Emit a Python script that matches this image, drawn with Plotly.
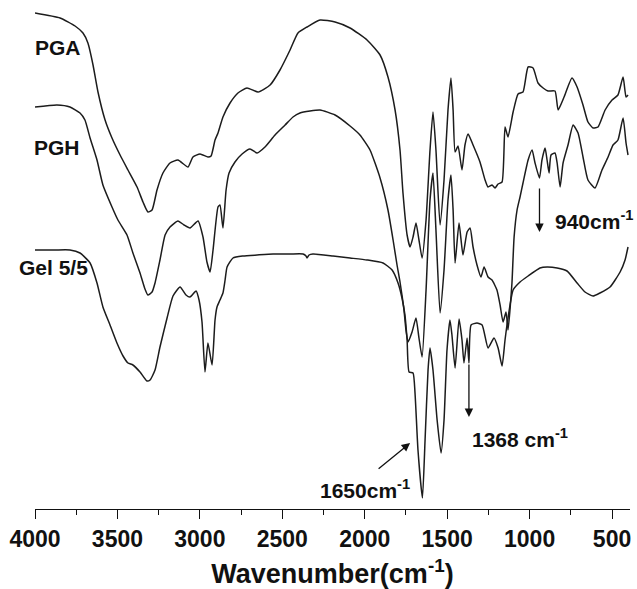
import plotly.graph_objects as go

# FTIR spectra (transmittance, arbitrary offset units) vs wavenumber (cm-1)
pga_wn = [4000, 3848, 3757, 3709, 3679, 3648, 3618, 3575, 3533, 3484, 3436, 3381, 3345, 3315,
          3290, 3260, 3224, 3181, 3133, 3072, 3042, 2999, 2951, 2932, 2908, 2890, 2860, 2817,
          2769, 2714, 2647, 2574, 2514, 2453, 2405, 2350, 2271, 2180, 2089, 1986, 1907, 1859,
          1816, 1786, 1768, 1743, 1725, 1707, 1689, 1671, 1652, 1628, 1604, 1586, 1568, 1543,
          1519, 1495, 1477, 1464, 1452, 1434, 1410, 1392, 1373, 1343, 1301, 1270, 1252, 1228,
          1210, 1191, 1167, 1149, 1131, 1100, 1070, 1040, 1009, 979, 949, 918, 888, 846, 827,
          791, 743, 712, 676, 646, 615, 585, 542, 500, 464, 433, 415, 403]
pga_t = [496, 491, 483, 476, 466, 444, 417, 389, 371, 354, 339, 322, 307, 297,
         299, 319, 336, 346, 349, 342, 352, 355, 352, 353, 369, 376, 392, 406,
         416, 421, 417, 424, 439, 459, 476, 482, 489, 487, 481, 469, 454, 432,
         399, 359, 316, 274, 262, 272, 286, 269, 251, 289, 359, 397, 359, 284,
         329, 399, 431, 399, 357, 363, 339, 364, 375, 364, 347, 329, 322, 324,
         321, 325, 327, 382, 372, 397, 415, 417, 442, 441, 426, 421, 418, 418, 399,
         412, 431, 422, 404, 387, 381, 382, 399, 409, 414, 432, 412, 414]

pgh_wn = [4000, 3867, 3788, 3727, 3697, 3666, 3624, 3588, 3533, 3497, 3442, 3406, 3363, 3333,
          3315, 3290, 3272, 3242, 3211, 3181, 3133, 3096, 3060, 3011, 2981, 2957, 2938, 2920,
          2890, 2878, 2860, 2841, 2823, 2787, 2744, 2696, 2653, 2605, 2544, 2483, 2435, 2393,
          2332, 2271, 2180, 2089, 2029, 1968, 1907, 1859, 1828, 1804, 1786, 1762, 1750, 1737,
          1713, 1689, 1671, 1652, 1628, 1604, 1586, 1568, 1543, 1519, 1495, 1477, 1464, 1452,
          1428, 1404, 1379, 1361, 1343, 1319, 1295, 1276, 1252, 1228, 1198, 1179, 1161, 1143,
          1131, 1119, 1107, 1094, 1076, 1058, 1040, 1009, 985, 967, 940, 925, 906, 894, 882,
          870, 846, 833, 815, 797, 767, 736, 706, 676, 646, 603, 561, 524, 494, 464, 433, 415, 403]
pgh_t = [402, 404, 402, 396, 389, 371, 349, 324, 302, 289, 274, 256, 236, 220,
         214, 217, 226, 249, 274, 282, 288, 284, 281, 288, 272, 247, 237, 259,
         302, 304, 281, 319, 336, 347, 355, 360, 356, 362, 374, 384, 392, 396,
         398, 399, 394, 383, 374, 359, 331, 299, 269, 244, 227, 199, 179, 167,
         177, 191, 171, 152, 219, 309, 336, 279, 196, 239, 309, 334, 299, 246,
         286, 254, 277, 281, 262, 244, 232, 242, 232, 229, 219, 204, 187, 197,
         179, 199, 226, 272, 299, 312, 326, 349, 359, 346, 331, 349, 361, 349, 336,
         354, 356, 346, 322, 346, 364, 384, 376, 352, 329, 321, 339, 352, 364, 369, 391, 366, 354]

gel_wn = [4000, 3879, 3788, 3727, 3666, 3624, 3588, 3545, 3503, 3466, 3436, 3406, 3363, 3321,
          3302, 3272, 3242, 3199, 3163, 3120, 3084, 3060, 3023, 3005, 2987, 2969, 2951, 2926,
          2908, 2896, 2878, 2860, 2847, 2835, 2799, 2738, 2653, 2556, 2453, 2374, 2356, 2350,
          2338, 2314, 2192, 2089, 1986, 1889, 1834, 1798, 1774, 1756, 1743, 1731, 1707, 1695,
          1677, 1650, 1634, 1616, 1604, 1586, 1561, 1537, 1519, 1501, 1483, 1471, 1452, 1428,
          1410, 1398, 1379, 1368, 1355, 1319, 1288, 1252, 1216, 1191, 1167, 1149, 1131, 1100,
          1058, 1009, 937, 894, 833, 773, 712, 664, 615, 573, 512, 451, 421, 403]
gel_t = [259, 259, 259, 256, 246, 226, 202, 184, 166, 153, 146, 144, 137, 128,
         129, 139, 162, 191, 213, 222, 214, 212, 218, 209, 187, 137, 166, 144,
         189, 202, 209, 216, 229, 242, 251, 253, 254, 255, 255, 255, 253, 251,
         254, 255, 253, 251, 249, 246, 239, 226, 211, 194, 169, 137, 136, 116,
         59, 11, 69, 139, 161, 139, 89, 56, 89, 159, 189, 174, 141, 190,
         169, 146, 171, 146, 184, 186, 184, 161, 171, 161, 143, 169, 191, 219,
         227, 233, 241, 242, 241, 238, 226, 217, 213, 216, 222, 237, 249, 262]

x_ticks = [4000, 3500, 3000, 2500, 2000, 1500, 1000, 500]
X_RANGE = [4000, 391]

LINE = "#1c1c1c"
FONT = "Liberation Sans"

fig = go.Figure()
for name, wn, t in [("PGA", pga_wn, pga_t), ("PGH", pgh_wn, pgh_t), ("Gel 5/5", gel_wn, gel_t)]:
    fig.add_trace(go.Scatter(x=wn, y=t, mode="lines", name=name,
                             line=dict(color=LINE, width=1.5, shape="spline", smoothing=0.5)))


def label(text, x, y, xref="x", size=21):
    fig.add_annotation(x=x, y=y, xref=xref, yref="y", text=text, showarrow=False,
                       xanchor="left", yanchor="middle",
                       font=dict(family=FONT, size=size, color="#111", weight="bold"))


def arrow(x, y, ax, ay):
    fig.add_annotation(x=x, y=y, ax=ax, ay=ay, xref="x", yref="y", axref="x", ayref="y",
                       text="", showarrow=True, arrowhead=2, arrowsize=1.3,
                       arrowwidth=1.3, arrowcolor="#111")


def paper_x(wn):
    # position in paper units for a wavenumber, allowing values left of the axis start
    return (X_RANGE[0] - wn) / (X_RANGE[0] - X_RANGE[1])


# series names sit just left of each curve's start
label("PGA", paper_x(4012), 462, xref="paper")
label("PGH", paper_x(4018), 362, xref="paper")
label("Gel 5/5", paper_x(4109), 242, xref="paper")

# band annotations
label("940cm<sup>-1</sup>", 858, 289)
label("1368 cm<sup>-1</sup>", 1361, 71)
label("1650cm<sup>-1</sup>", 2283, 20)

arrow(940, 277, 940, 322)
arrow(1368, 92, 1368, 146)
arrow(1725, 66, 1925, 39)

fig.update_layout(
    width=637, height=589,
    margin=dict(l=35, r=7, t=5, b=80),
    paper_bgcolor="white", plot_bgcolor="white",
    showlegend=False,
    xaxis=dict(
        range=X_RANGE, tickvals=x_ticks, ticktext=[str(v) for v in x_ticks],
        showline=True, linecolor="#111", linewidth=1.3, mirror=False,
        ticks="outside", ticklen=9, tickwidth=1.3, tickcolor="#111",
        minor=dict(dtick=250, tick0=0, ticks="outside", ticklen=5, tickwidth=1.3, tickcolor="#111"),
        showgrid=False, zeroline=False,
        tickfont=dict(family=FONT, size=23, color="#111", weight="bold"),
        title=dict(text="Wavenumber(cm<sup>-1</sup>)", standoff=14,
                   font=dict(family=FONT, size=27, color="#111", weight="bold")),
    ),
    yaxis=dict(range=[0, 504], visible=False, showgrid=False, zeroline=False),
)

fig.write_html("out.html")
